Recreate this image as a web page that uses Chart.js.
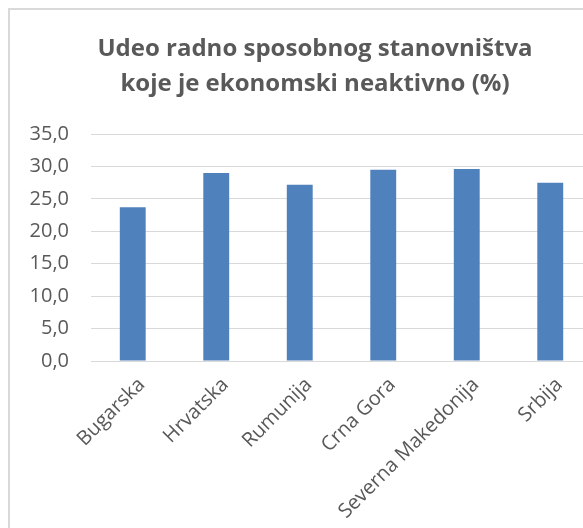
<!DOCTYPE html>
<html>
<head>
<meta charset="utf-8">
<script src="https://cdn.jsdelivr.net/npm/chart.js@4"></script>
<style>
  html, body { margin: 0; padding: 0; overflow: hidden; background: #fff; }
  #frame {
    position: absolute; left: 8px; top: 8px;
    width: 610px; height: 560px;
    border-top: 2px solid #d9d9d9; border-left: 2px solid #d9d9d9;
  }
</style>
</head>
<body>
<div id="frame"><canvas id="chart"></canvas></div>
<script>
// data
const countries = ['Bugarska', 'Hrvatska', 'Rumunija', 'Crna Gora', 'Severna Makedonija', 'Srbija'];
const inactiveShare = [23.7, 29.0, 27.2, 29.5, 29.6, 27.5];
const titleLines = ['Udeo radno sposobnog stanovništva', 'koje je ekonomski neaktivno (%)'];
const yMin = 0, yMax = 35, yStep = 5;

const textGray = '#595959';
const gridGray = '#d9d9d9';

const ctx = document.getElementById('chart').getContext('2d');
new Chart(ctx, {
  type: 'bar',
  data: {
    labels: countries,
    datasets: [{
      data: inactiveShare,
      backgroundColor: '#4f81bd',
      borderWidth: 0,
      barPercentage: 0.31,
      categoryPercentage: 1
    }]
  },
  options: {
    responsive: true,
    maintainAspectRatio: false,
    animation: false,
    layout: { padding: 0 },
    plugins: {
      legend: { display: false },
      tooltip: { enabled: false },
      title: {
        display: true,
        text: titleLines,
        color: textGray,
        font: { family: 'Open Sans', size: 24, weight: 'bold', lineHeight: 1.46 },
        padding: { top: 22, bottom: 32 }
      }
    },
    scales: {
      x: {
        grid: { display: false },
        border: { color: gridGray, width: 1 },
        ticks: {
          color: textGray,
          font: { family: 'Open Sans', size: 20 },
          minRotation: 45,
          maxRotation: 45,
          padding: 4,
          labelOffset: 9,
          autoSkip: false
        },
        afterFit: function (scale) { scale.height = 209; }
      },
      y: {
        min: yMin,
        max: yMax,
        grid: { color: gridGray, drawTicks: false },
        border: { display: false },
        ticks: {
          stepSize: yStep,
          color: textGray,
          font: { family: 'Open Sans', size: 20 },
          padding: 22,
          callback: function (value) { return value.toFixed(1).replace('.', ','); }
        },
        afterFit: function (scale) { scale.width = 81; }
      },
      // empty right-hand spacer so the title stays centred on the whole frame
      spacer: {
        type: 'linear',
        position: 'right',
        grid: { display: false },
        border: { display: false },
        ticks: { display: false },
        afterFit: function (scale) { scale.width = 28; }
      }
    }
  }
});
</script>
</body>
</html>
